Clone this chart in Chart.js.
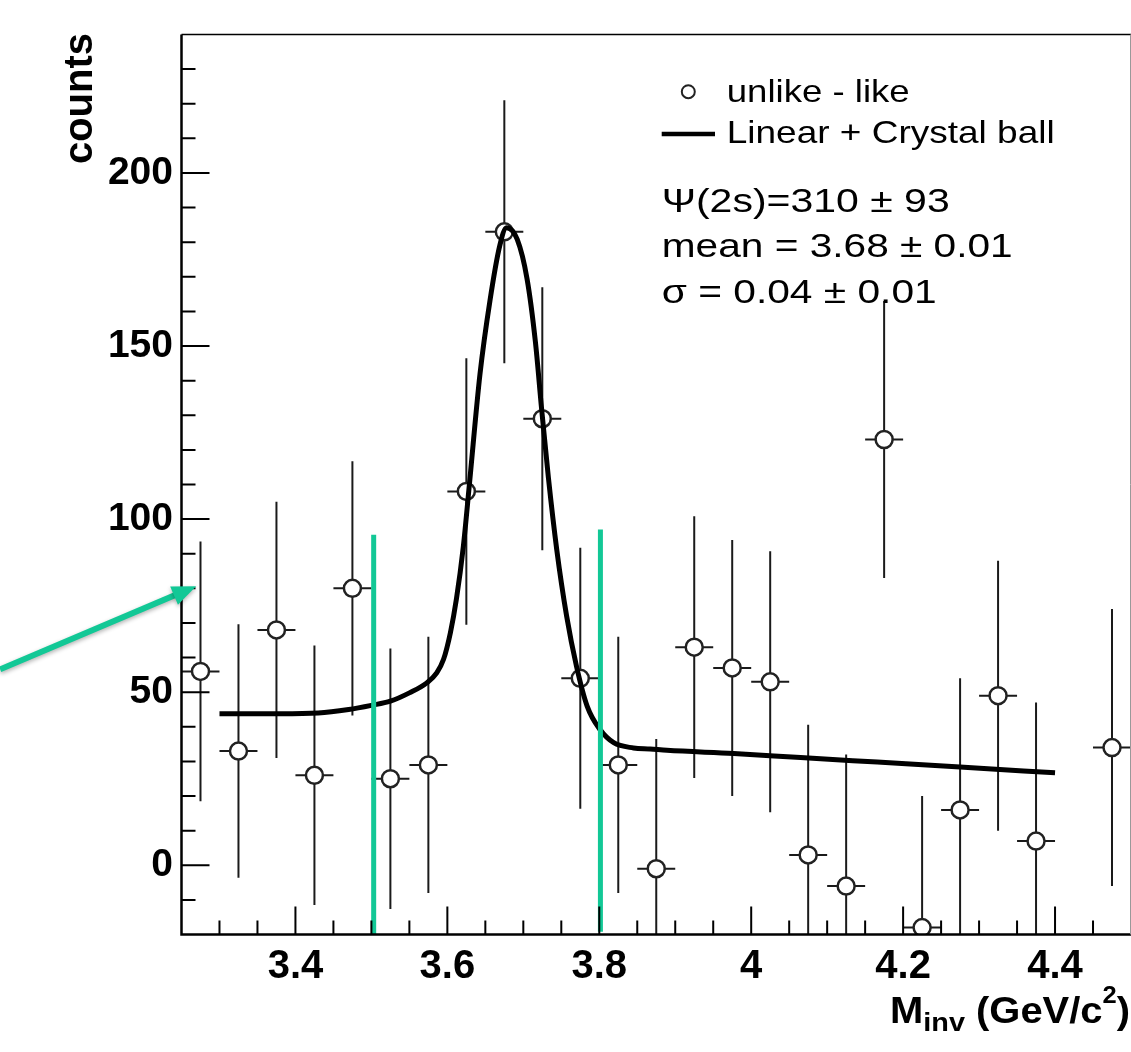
<!DOCTYPE html>
<html>
<head>
<meta charset="utf-8">
<script src="https://cdn.jsdelivr.net/npm/chart.js@4.4.1/dist/chart.umd.min.js"></script>
<style>
  html, body { margin: 0; padding: 0; background: #fff; }
  canvas { display: block; }
</style>
</head>
<body>
<canvas id="chart" width="1131" height="1052"></canvas>
<script>
// histogram bins (unlike - like)
const binCenters = [3.275, 3.325, 3.375, 3.425, 3.475, 3.525, 3.575, 3.625, 3.675, 3.725,
                    3.775, 3.825, 3.875, 3.925, 3.975, 4.025, 4.075, 4.125, 4.175, 4.225,
                    4.275, 4.325, 4.375, 4.425, 4.475];
const counts = [56, 33, 68, 26, 80, 25, 29, 108, 183, 129,
                54, 29, -1, 63, 57, 53, 3, -6, 123, -18,
                16, 49, 7, null, 34];
const errors = [37.5, 36.6, 37, 37.5, 36.7, 37.6, 37, 38.5, 38, 38,
                37.7, 37, 37.5, 37.8, 37, 37.7, 37.6, 38, 40, 38,
                38, 39, 40, null, 40];
const binHalfWidth = 0.025;

// fit curve
const fitX = [3.30, 3.38, 3.43, 3.47, 3.50, 3.525, 3.55, 3.573, 3.586, 3.595,
              3.604, 3.612, 3.621, 3.629, 3.643, 3.656, 3.669, 3.678, 3.692, 3.705,
              3.716, 3.724, 3.733, 3.744, 3.757, 3.770, 3.784, 3.801, 3.819, 3.845,
              3.867, 3.889, 3.977, 4.065, 4.166, 4.275, 4.40];
const fitY = [43.8, 43.8, 44.0, 45.0, 46.2, 47.4, 49.8, 52.7, 55.6, 59.5,
              67.2, 77, 92, 110, 142, 163, 179, 184.2, 180.8, 169.3,
              151, 132, 112, 91.2, 72, 57.5, 46, 39.2, 35.4, 33.9,
              33.6, 33.2, 32.3, 31.1, 29.8, 28.4, 26.7];

// green cut lines [x, yFrom, yTo]
const cutLines = [[3.503, -20, 95.5], [3.8015, -19.2, 97]];
// arrow from / to in data units
const arrowFrom = [3.0112, 56.6];
const arrowTo = [3.2693, 80.6];

// axes
const xRange = [3.25, 4.5];
const yRange = [-20, 240];
const xTicks = [3.4, 3.6, 3.8, 4.0, 4.2, 4.4];
const xTickLabels = ['3.4', '3.6', '3.8', '4', '4.2', '4.4'];
const xMinorStep = 0.05;
const yTicks = [0, 50, 100, 150, 200];
const yTickLabels = ['0', '50', '100', '150', '200'];
const yMinorStep = 10;

const green = '#12c896';
const sans = "'Liberation Sans', Arial, Helvetica, sans-serif";

function stretchText(ctx, str, x, y, font, width) {
    ctx.font = font;
    const w = ctx.measureText(str).width;
    ctx.save();
    ctx.translate(x, y);
    ctx.scale(width ? width / w : 1, 1);
    ctx.textAlign = 'left';
    ctx.textBaseline = 'alphabetic';
    ctx.fillText(str, 0, 0);
    ctx.restore();
}

function noPadding(s) {
    s.paddingLeft = 0;
    s.paddingRight = 0;
    s.paddingTop = 0;
    s.paddingBottom = 0;
}

const rootStyle = {
    id: 'rootStyle',
    beforeDatasetsDraw(chart) {
        const { ctx, chartArea: a, scales: { x, y } } = chart;
        ctx.save();
        ctx.beginPath();
        ctx.rect(a.left, a.top, a.right - a.left, a.bottom - a.top);
        ctx.clip();
        ctx.strokeStyle = '#1a1a1a';
        ctx.lineWidth = 2;
        binCenters.forEach((c, i) => {
            if (counts[i] === null) return;
            const px = x.getPixelForValue(c);
            const py = y.getPixelForValue(counts[i]);
            ctx.beginPath();
            ctx.moveTo(px, y.getPixelForValue(counts[i] - errors[i]));
            ctx.lineTo(px, y.getPixelForValue(counts[i] + errors[i]));
            ctx.moveTo(x.getPixelForValue(c - binHalfWidth), py);
            ctx.lineTo(x.getPixelForValue(c + binHalfWidth), py);
            ctx.stroke();
        });
        ctx.restore();
    },
    afterDraw(chart) {
        const { ctx, chartArea: a, scales: { x, y } } = chart;
        ctx.save();

        // frame
        ctx.strokeStyle = '#000';
        ctx.lineWidth = 2.5;
        ctx.beginPath();
        ctx.moveTo(a.left, a.top);
        ctx.lineTo(a.left, a.bottom);
        ctx.lineTo(a.right, a.bottom);
        ctx.stroke();
        ctx.lineWidth = 1.5;
        ctx.beginPath();
        ctx.moveTo(a.left, a.top);
        ctx.lineTo(a.right, a.top);
        ctx.stroke();
        ctx.strokeStyle = '#999';
        ctx.lineWidth = 1;
        ctx.beginPath();
        ctx.moveTo(a.right - 0.5, a.top);
        ctx.lineTo(a.right - 0.5, a.bottom);
        ctx.stroke();

        // inward ticks
        ctx.strokeStyle = '#000';
        ctx.lineWidth = 2;
        ctx.beginPath();
        for (let v = yRange[0] + yMinorStep; v < yRange[1]; v += yMinorStep) {
            const py = y.getPixelForValue(v);
            const major = yTicks.some(t => Math.abs(t - v) < 1e-6);
            ctx.moveTo(a.left, py);
            ctx.lineTo(a.left + (major ? 28 : 14), py);
        }
        for (let v = 3.3; v < xRange[1] - 1e-6; v += xMinorStep) {
            const px = x.getPixelForValue(v);
            const major = xTicks.some(t => Math.abs(t - v) < 1e-6);
            ctx.moveTo(px, a.bottom);
            ctx.lineTo(px, a.bottom - (major ? 28 : 14));
        }
        ctx.stroke();

        ctx.fillStyle = '#000';
        // y title
        ctx.save();
        ctx.translate(92, 33);
        ctx.rotate(-Math.PI / 2);
        ctx.font = 'bold 40px ' + sans;
        ctx.textAlign = 'right';
        ctx.textBaseline = 'alphabetic';
        ctx.fillText('counts', 0, 0);
        ctx.restore();

        // x title  M_inv (GeV/c^2)
        const parts = [
            ['M', 36, 0], ['inv', 26, 8.5], [' (GeV/c', 36, 0], ['2', 23, -19.5], [')', 36, 0]
        ];
        let total = 0;
        parts.forEach(p => { ctx.font = 'bold ' + p[1] + 'px ' + sans; total += ctx.measureText(p[0]).width; });
        const sx = 240 / total;
        let cx = 890;
        parts.forEach(p => {
            const font = 'bold ' + p[1] + 'px ' + sans;
            ctx.font = font;
            const w = ctx.measureText(p[0]).width * sx;
            stretchText(ctx, p[0], cx, 1022.7 + p[2], font, w);
            cx += w;
        });

        // legend
        ctx.strokeStyle = '#222';
        ctx.lineWidth = 2;
        ctx.fillStyle = '#fff';
        ctx.beginPath();
        ctx.arc(688.3, 91.7, 6.5, 0, Math.PI * 2);
        ctx.fill();
        ctx.stroke();
        ctx.strokeStyle = '#000';
        ctx.lineWidth = 4.5;
        ctx.beginPath();
        ctx.moveTo(661.7, 134);
        ctx.lineTo(715, 134);
        ctx.stroke();
        ctx.fillStyle = '#000';
        stretchText(ctx, 'unlike - like', 726.7, 101.7, '32px ' + sans, 183);
        stretchText(ctx, 'Linear + Crystal ball', 726.7, 143.3, '32px ' + sans, 328);
        stretchText(ctx, '\u03A8(2s)=310 \u00B1 93', 661.7, 211.7, '33px ' + sans, 288);
        stretchText(ctx, 'mean = 3.68 \u00B1 0.01', 661.7, 256.7, '33px ' + sans, 351);
        stretchText(ctx, '\u03C3 = 0.04 \u00B1 0.01', 661.7, 303.3, '33px ' + sans, 275);

        // arrow
        const x0 = x.getPixelForValue(arrowFrom[0]), y0 = y.getPixelForValue(arrowFrom[1]);
        const x1 = x.getPixelForValue(arrowTo[0]), y1 = y.getPixelForValue(arrowTo[1]);
        const ang = Math.atan2(y1 - y0, x1 - x0);
        const headLen = 24, headHalf = 10;
        const bx = x1 - headLen * Math.cos(ang), by = y1 - headLen * Math.sin(ang);
        ctx.shadowColor = 'rgba(0,0,0,0.3)';
        ctx.shadowBlur = 4;
        ctx.shadowOffsetY = 2;
        ctx.strokeStyle = green;
        ctx.fillStyle = green;
        ctx.lineWidth = 6;
        ctx.beginPath();
        ctx.moveTo(x0, y0);
        ctx.lineTo(bx + 2 * Math.cos(ang), by + 2 * Math.sin(ang));
        ctx.stroke();
        ctx.beginPath();
        ctx.moveTo(x1, y1);
        ctx.lineTo(bx + headHalf * Math.sin(ang), by - headHalf * Math.cos(ang));
        ctx.lineTo(bx - headHalf * Math.sin(ang), by + headHalf * Math.cos(ang));
        ctx.closePath();
        ctx.fill();

        ctx.restore();
    }
};

const datasets = [
    {
        type: 'scatter',
        label: 'unlike - like',
        data: binCenters.map((c, i) => ({ x: c, y: counts[i] })),
        pointRadius: 8.5,
        pointBorderWidth: 2.5,
        borderColor: '#222',
        backgroundColor: '#fff',
        order: 2
    },
    {
        type: 'line',
        label: 'Linear + Crystal ball',
        data: fitX.map((v, i) => ({ x: v, y: fitY[i] })),
        borderColor: '#000',
        borderWidth: 5,
        pointRadius: 0,
        cubicInterpolationMode: 'monotone',
        fill: false,
        order: 1
    }
];
cutLines.forEach(l => {
    datasets.push({
        type: 'line',
        data: [{ x: l[0], y: l[1] }, { x: l[0], y: l[2] }],
        borderColor: green,
        borderWidth: 5,
        pointRadius: 0,
        fill: false,
        order: 0
    });
});

new Chart(document.getElementById('chart'), {
    data: { datasets: datasets },
    options: {
        responsive: false,
        animation: false,
        layout: { autoPadding: false, padding: { top: 34.5, right: 0, left: 0, bottom: 0 } },
        plugins: { legend: { display: false }, tooltip: { enabled: false } },
        scales: {
            x: {
                type: 'linear',
                min: xRange[0],
                max: xRange[1],
                afterBuildTicks: s => { s.ticks = xTicks.map(v => ({ value: v })); },
                afterFit: s => { s.height = 117.5; noPadding(s); },
                grid: { display: false, drawTicks: false },
                border: { display: false },
                ticks: {
                    color: '#000',
                    padding: 8,
                    maxRotation: 0,
                    font: { family: sans, size: 40, weight: 'bold' },
                    callback: (v, i) => xTickLabels[i]
                }
            },
            y: {
                type: 'linear',
                min: yRange[0],
                max: yRange[1],
                afterBuildTicks: s => { s.ticks = yTicks.map(v => ({ value: v })); },
                afterFit: s => { s.width = 181.5; noPadding(s); },
                grid: { display: false, drawTicks: false },
                border: { display: false },
                ticks: {
                    color: '#000',
                    padding: 8.5,
                    font: { family: sans, size: 39, weight: 'bold' },
                    callback: (v, i) => yTickLabels[i]
                }
            }
        }
    },
    plugins: [rootStyle]
});
</script>
</body>
</html>
